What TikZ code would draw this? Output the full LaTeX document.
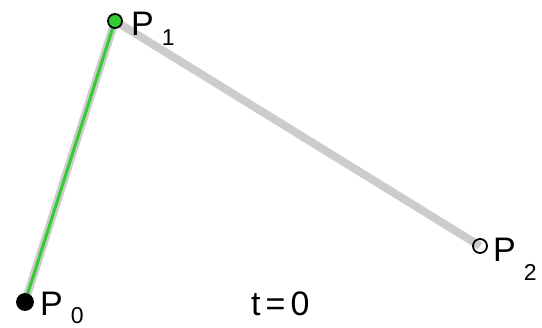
\documentclass[tikz,border=0pt]{standalone}
\usepackage{fontspec}
\setmainfont{Liberation Sans}
\usetikzlibrary{positioning}

\definecolor{polygrey}{HTML}{CCCCCC}
\definecolor{curvegreen}{HTML}{33CC33}
\newcommand{\ctrllabel}[2][-10pt]{P\hspace{8pt}\raisebox{#1}{\fontsize{23}{23}\selectfont #2}}

\begin{document}
\begin{tikzpicture}[
  x=1pt,y=-1pt,
  ctrl/.style={circle,draw=black,line width=1.8pt,inner sep=0pt,minimum size=14pt},
  hull/.style={polygrey,line width=8pt},
  trace/.style={curvegreen,line width=3pt},
  ptlabel/.style={anchor=base west,inner sep=0pt,font=\fontsize{34}{34}\selectfont}
]
\useasboundingbox (0,0) rectangle (542,328);
\coordinate (c0) at (25,302);
\coordinate (c1) at (115,21);
\coordinate (c2) at (480,246);
\draw[hull] (c0) -- (c1) -- (c2);
\draw[trace] (c0) -- (c1);
\node[ctrl,fill=black,minimum size=16pt] (p0) at (c0) {};
\node[ctrl,fill=curvegreen] (p1) at (c1) {};
\node[ctrl] (p2) at (c2) {};
\node[ptlabel] (l0) at (40,316) {\ctrllabel[-8pt]{0}};
\node[ptlabel] (l1) at (131,36) {\ctrllabel{1}};
\node[ptlabel] (l2) at (493,262) {\ctrllabel[-19pt]{2}};
\node[ptlabel] (tlab) at (251,316) {\addfontfeature{LetterSpace=15}t=0};
\end{tikzpicture}
\end{document}
